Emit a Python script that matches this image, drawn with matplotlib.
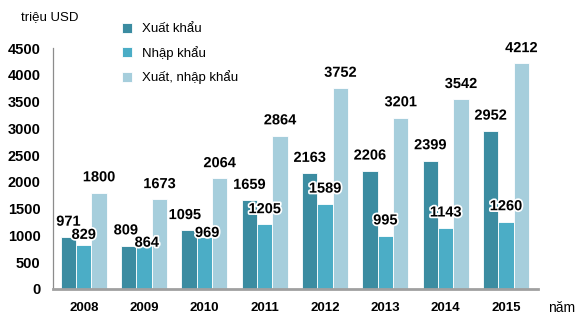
import matplotlib.pyplot as plt
import matplotlib.patheffects as pe
import numpy as np

plt.rcParams['font.family'] = ['Liberation Sans', 'DejaVu Sans']

# Data (million USD)
years = ['2008', '2009', '2010', '2011', '2012', '2013', '2014', '2015']
export_vals = [971, 809, 1095, 1659, 2163, 2206, 2399, 2952]
import_vals = [829, 864, 969, 1205, 1589, 995, 1143, 1260]
total_vals = [1800, 1673, 2064, 2864, 3752, 3201, 3542, 4212]
series_names = ['Xuất khẩu', 'Nhập khẩu', 'Xuất, nhập khẩu']
colors = ['#3B8CA1', '#4BADC6', '#A6CEDC']

# label nudges (points) where the labels crowd each other, as in the original
nudge = {(1, 0): (0, 7), (1, 1): (2, 0), (1, 2): (2, 3), (0, 1): (-2, 11), (0, 2): (-3, 11)}

fig = plt.figure(figsize=(5.88, 3.22), dpi=100)
ax = fig.add_axes([53 / 588, 33 / 322, 485 / 588, 241 / 322])

x = np.arange(len(years))
w = 0.255
outline = [pe.withStroke(linewidth=2.5, foreground='white')]

for k, vals in enumerate([export_vals, import_vals, total_vals]):
    pos = x + (k - 1) * w
    ax.bar(pos, vals, width=w, color=colors[k], edgecolor='white', linewidth=0.6,
           label=series_names[k], zorder=2)
    for i, (px, v) in enumerate(zip(pos, vals)):
        off = nudge.get((k, i), (0, 11))
        ax.annotate(str(v), (px, v), xytext=off, textcoords='offset points',
                    ha='center', va='center', fontsize=10.5, fontweight='bold',
                    path_effects=outline, zorder=3)

ax.set_xlim(-0.51, 7.53)
ax.set_ylim(0, 4500)
ax.set_yticks(range(0, 4501, 500))
ax.set_xticks(x)
ax.set_xticklabels(years)
ax.tick_params(axis='both', length=0)
ax.tick_params(axis='y', pad=9, labelsize=10.5)
ax.tick_params(axis='x', pad=9.5, labelsize=9.5)
for lab in ax.get_xticklabels() + ax.get_yticklabels():
    lab.set_fontweight('bold')

for s in ['top', 'right']:
    ax.spines[s].set_visible(False)
ax.spines['left'].set_color('#8C8C8C')
ax.spines['left'].set_linewidth(0.9)
ax.spines['bottom'].set_color('#A0A0A0')
ax.spines['bottom'].set_linewidth(2)

fig.text(21 / 588, 1 - 17 / 322, 'triệu USD', fontsize=9.5, va='center', ha='left')
fig.text(548 / 588, 1 - 308 / 322, 'năm', fontsize=10, va='center', ha='left')

ax.legend(loc='upper left', bbox_to_anchor=(122 / 588, 1 - 23 / 322),
          bbox_transform=fig.transFigure, frameon=False, fontsize=9.5,
          handlelength=0.75, handleheight=0.75, handletextpad=0.8,
          labelspacing=0.8, borderpad=0, borderaxespad=0)

fig.savefig('out.png', dpi=100)
